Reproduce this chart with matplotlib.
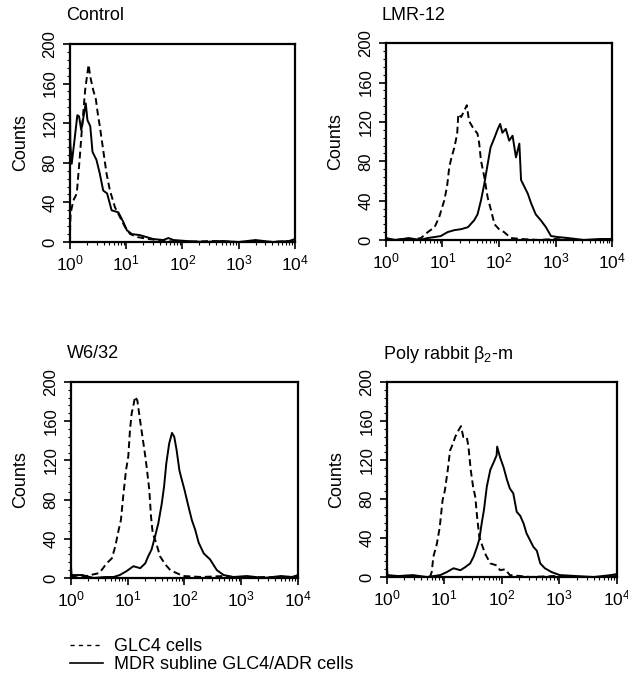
import matplotlib
matplotlib.use('Agg')
import matplotlib.pyplot as plt
import numpy as np
from matplotlib.lines import Line2D
from matplotlib.ticker import LogLocator, MultipleLocator, NullFormatter

plt.rcParams['font.family'] = ['Liberation Sans', 'DejaVu Sans']
plt.rcParams['mathtext.fontset'] = 'custom'
plt.rcParams['mathtext.rm'] = 'Liberation Sans'
plt.rcParams['mathtext.it'] = 'Liberation Sans'

# x values are log10(fluorescence), y values are counts
panel_titles = ['Control', 'LMR-12', 'W6/32', r'Poly rabbit β$_{\mathrm{2}}$-m']
legend_labels = ['GLC4 cells', 'MDR subline GLC4/ADR cells']
y_ticks = [0, 40, 80, 120, 160, 200]

control_glc4_x = [0.0, 0.01, 0.06, 0.12, 0.17, 0.21, 0.27, 0.33, 0.36, 0.41, 0.46, 0.5, 0.53, 0.59,
                  0.65, 0.71, 0.8, 0.89, 0.98, 1.07, 1.2, 1.4, 1.7, 2.0, 2.5, 3.0, 3.5, 4.0]
control_glc4_y = [10, 29, 42, 49, 83, 113, 154, 179, 167, 154, 144, 127, 117, 93,
                  69, 52, 35, 25, 15, 8, 5, 3, 1, 0, 1, 0, 0, 1]
control_adr_x = [0.0, 0.005, 0.03, 0.08, 0.13, 0.16, 0.2, 0.23, 0.28, 0.31, 0.36, 0.4, 0.47, 0.53,
                 0.59, 0.66, 0.74, 0.86, 0.95, 1.01, 1.1, 1.24, 1.36, 1.48, 1.66, 1.75, 1.84, 2.07,
                 2.4, 2.7, 3.0, 3.3, 3.6, 3.9, 4.0]
control_adr_y = [135, 100, 79, 103, 128, 127, 113, 123, 140, 123, 117, 91, 83, 69,
                 52, 49, 32, 30, 20, 12, 8, 7, 5, 3, 2, 4, 2, 1,
                 0, 1, 0, 2, 0, 1, 3]

lmr_glc4_x = [0.0, 0.15, 0.3, 0.45, 0.62, 0.74, 0.86, 0.94, 1.03, 1.08, 1.12, 1.16, 1.21, 1.26,
              1.28, 1.33, 1.39, 1.43, 1.47, 1.53, 1.62, 1.65, 1.68, 1.74, 1.8, 1.86, 1.92, 2.0,
              2.09, 2.21, 2.39, 2.7, 3.0, 3.3, 3.6, 4.0]
lmr_glc4_y = [2, 0, 1, 0, 2, 8, 13, 23, 40, 54, 74, 84, 94, 108,
              128, 125, 132, 137, 121, 115, 108, 98, 81, 64, 43, 30, 16, 11,
              8, 2, 1, 0, 1, 0, 0, 1]
lmr_adr_x = [0.0, 0.2, 0.4, 0.6, 0.74, 0.86, 0.97, 1.09, 1.21, 1.33, 1.45, 1.56, 1.62, 1.68,
             1.74, 1.79, 1.85, 1.92, 1.98, 2.02, 2.06, 2.12, 2.18, 2.24, 2.3, 2.36, 2.39, 2.45,
             2.51, 2.57, 2.65, 2.74, 2.83, 2.92, 3.04, 3.22, 3.5, 3.8, 4.0]
lmr_adr_y = [1, 0, 2, 0, 2, 3, 4, 8, 10, 11, 13, 20, 26, 40,
             57, 74, 94, 104, 113, 118, 109, 113, 101, 106, 84, 98, 61, 54,
             47, 37, 26, 20, 13, 4, 3, 2, 0, 1, 1]

w6_glc4_x = [0.0, 0.15, 0.34, 0.5, 0.63, 0.72, 0.78, 0.84, 0.88, 0.92, 0.97, 1.01, 1.04, 1.07,
             1.1, 1.13, 1.17, 1.21, 1.26, 1.31, 1.34, 1.38, 1.41, 1.44, 1.5, 1.57, 1.66, 1.75,
             1.86, 1.98, 2.3, 2.7, 3.0, 3.4, 3.8, 4.0]
w6_glc4_y = [2, 0, 3, 5, 15, 20, 32, 49, 59, 83, 110, 124, 151, 168,
             176, 185, 181, 164, 144, 124, 110, 90, 63, 46, 36, 22, 14, 8,
             5, 2, 1, 2, 0, 1, 0, 2]
w6_adr_x = [0.0, 0.01, 0.2, 0.4, 0.6, 0.75, 0.86, 0.98, 1.1, 1.22, 1.31, 1.36, 1.42, 1.48,
            1.54, 1.6, 1.64, 1.68, 1.73, 1.78, 1.82, 1.86, 1.91, 1.94, 2.0, 2.07, 2.13, 2.19,
            2.25, 2.34, 2.45, 2.57, 2.69, 2.86, 3.1, 3.4, 3.7, 3.9, 4.0]
w6_adr_y = [12, 3, 3, 0, 1, 1, 3, 7, 12, 10, 15, 22, 29, 42,
            56, 76, 93, 117, 137, 148, 144, 131, 110, 103, 90, 73, 59, 49,
            36, 25, 19, 8, 3, 1, 2, 0, 2, 1, 3]

poly_glc4_x = [0.0, 0.2, 0.4, 0.6, 0.75, 0.78, 0.81, 0.87, 0.92, 0.97, 1.01, 1.06, 1.1, 1.15,
               1.19, 1.25, 1.29, 1.33, 1.39, 1.42, 1.46, 1.5, 1.54, 1.57, 1.61, 1.65, 1.71, 1.8,
               1.91, 1.97, 2.06, 2.14, 2.5, 2.9, 3.3, 3.7, 4.0]
poly_glc4_y = [1, 0, 1, 0, 0, 5, 21, 34, 51, 79, 89, 110, 130, 137,
               144, 151, 155, 144, 144, 134, 110, 93, 82, 62, 41, 34, 24, 14,
               12, 7, 8, 2, 0, 1, 0, 0, 1]
poly_adr_x = [0.0, 0.01, 0.2, 0.45, 0.7, 0.93, 1.04, 1.16, 1.28, 1.36, 1.45, 1.51, 1.57, 1.61,
              1.65, 1.69, 1.74, 1.8, 1.86, 1.91, 1.92, 1.97, 2.03, 2.09, 2.14, 2.2, 2.26, 2.32,
              2.38, 2.43, 2.49, 2.55, 2.61, 2.67, 2.75, 2.87, 3.01, 3.3, 3.6, 3.9, 4.0]
poly_adr_y = [12, 2, 1, 2, 0, 2, 5, 9, 7, 10, 14, 21, 31, 39,
              55, 69, 93, 110, 118, 125, 134, 123, 113, 100, 91, 86, 67, 63,
              55, 45, 38, 31, 27, 14, 9, 5, 2, 1, 0, 2, 3]

glc4_x = [control_glc4_x, lmr_glc4_x, w6_glc4_x, poly_glc4_x]
glc4_y = [control_glc4_y, lmr_glc4_y, w6_glc4_y, poly_glc4_y]
adr_x = [control_adr_x, lmr_adr_x, w6_adr_x, poly_adr_x]
adr_y = [control_adr_y, lmr_adr_y, w6_adr_y, poly_adr_y]

# axes rectangles in figure fractions
positions = [[0.1115, 0.642, 0.358, 0.293],
             [0.6146, 0.645, 0.360, 0.291],
             [0.113, 0.145, 0.3615, 0.290],
             [0.616, 0.1464, 0.366, 0.288]]

fig = plt.figure(figsize=(6.28, 6.76), dpi=100)

for i in range(4):
    ax = fig.add_axes(positions[i])
    ax.plot(10 ** np.array(glc4_x[i]), glc4_y[i], color='black', lw=1.4,
            linestyle=(0, (3.5, 2)))
    ax.plot(10 ** np.array(adr_x[i]), adr_y[i], color='black', lw=1.4)
    ax.set_xscale('log')
    ax.set_xlim(1, 1e4)
    ax.set_ylim(0, 200)
    ax.set_yticks(y_ticks)
    ax.yaxis.set_minor_locator(MultipleLocator(8))
    ax.xaxis.set_major_locator(LogLocator(base=10, numticks=10))
    ax.xaxis.set_minor_locator(LogLocator(base=10, subs=np.arange(2, 10), numticks=20))
    ax.xaxis.set_minor_formatter(NullFormatter())
    for s in ax.spines.values():
        s.set_linewidth(1.6)
    ax.tick_params(axis='x', which='major', length=5, width=1.2, labelsize=12.5, pad=3)
    ax.tick_params(axis='y', which='major', length=5, width=1.2, labelsize=12, pad=4)
    ax.tick_params(which='minor', length=2.5, width=0.8)
    for lab in ax.get_yticklabels():
        lab.set_rotation(90)
        lab.set_va('center')
    ax.set_ylabel('Counts', fontsize=13, labelpad=10)
    ax.annotate(panel_titles[i], xy=(0, 1), xycoords='axes fraction',
                xytext=(-3, 17), textcoords='offset points', fontsize=13,
                ha='left', va='baseline')

handles = [Line2D([], [], color='black', lw=1.0, linestyle=(0, (3, 3))),
           Line2D([], [], color='black', lw=1.2)]
fig.legend(handles, legend_labels, loc='upper left', bbox_to_anchor=(0.112, 1 - 638 / 676),
           frameon=False, fontsize=13, handlelength=1.8, handletextpad=0.6,
           labelspacing=0.05, borderpad=0, borderaxespad=0)

fig.savefig('out.png', dpi=100)
